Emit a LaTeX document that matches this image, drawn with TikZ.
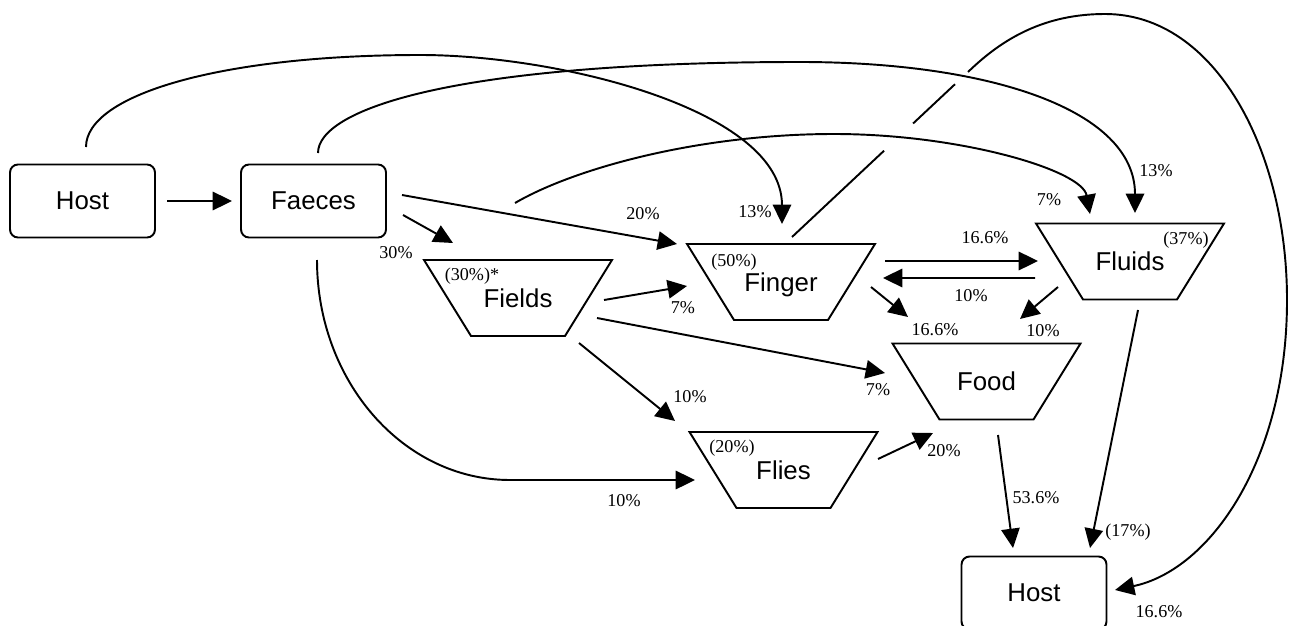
\documentclass[tikz,border=0pt]{standalone}
\usepackage{fontspec}
\setmainfont{Liberation Serif}
\newfontfamily\sansf{Liberation Sans}
\usetikzlibrary{arrows.meta,calc}
\begin{document}
\begin{tikzpicture}[x=0.02cm,y=-0.02cm,
  box/.style={draw, line width=1.1pt, rounded corners=0.16cm, minimum width=2.9cm, minimum height=1.46cm, inner sep=0pt, text depth=0pt, font=\fontsize{14.7}{17}\selectfont\sansf},
  trap/.style={minimum width=3.76cm, minimum height=1.52cm, inner sep=0pt, outer sep=0pt, text depth=0pt, font=\fontsize{14.7}{17}\selectfont\sansf,
    append after command={\pgfextra{\draw[line width=1.1pt, line join=miter]
      (\tikzlastnode.north west) -- (\tikzlastnode.north east)
      -- ([xshift=-0.94cm]\tikzlastnode.south east)
      -- ([xshift=0.94cm]\tikzlastnode.south west) -- cycle;}}},
  conn/.style={line width=1.1pt},
  arr/.style={line width=1.1pt, -{Triangle[length=11pt,width=10.5pt]}},
  lab/.style={inner sep=0pt, font=\fontsize{10.3}{12}\selectfont}]
\useasboundingbox (0,0) rectangle (1290,625);
% nodes
\node[box] (host1) at (82.5,201) {Host};
\node[box] (faeces) at (313.5,201) {Faeces};
\node[box] (host2) at (1034,593) {Host};
\node[trap] (fields) at (518,298) {Fields};
\node[trap] (finger) at (781,282) {Finger};
\node[trap] (fluids) at (1130,261.5) {Fluids};
\node[trap] (food) at (986.5,381.5) {Food};
\node[trap] (flies) at (783.5,470) {Flies};
% share labels
\node[lab] (pfields) at (472,276) {(30\%)*};
\node[lab] (pfinger) at (734,262) {(50\%)};
\node[lab] (pfluids) at (1186,240) {(37\%)};
\node[lab] (pflies) at (732,448) {(20\%)};
% straight connectors
\draw[arr] ($(host1.center)+(84.5,0)$) -- ($(faeces.center)+(-81.5,0)$);
\draw[arr] ($(faeces.center)+(89.5,14)$) -- ($(fields.center)+(-65,-55)$);
\draw[arr] ($(faeces.center)+(88.5,-6)$) -- ($(finger.center)+(-104,-38)$);
\draw[arr] ($(fields.center)+(86,2)$) -- ($(finger.center)+(-94,4)$);
\draw[arr] ($(fields.center)+(79,20)$) -- ($(food.center)+(-101.5,-8.5)$);
\draw[arr] ($(fields.center)+(61,45)$) -- ($(flies.center)+(-108.5,-49)$);
\draw[arr] ($(finger.center)+(104,-21)$) -- ($(fluids.center)+(-92,-0.5)$);
\draw[arr] ($(fluids.center)+(-95,16.5)$) -- ($(finger.center)+(102,-4)$);
\draw[arr] ($(finger.center)+(90,5)$) -- ($(food.center)+(-78.5,-64.5)$);
\draw[arr] ($(fluids.center)+(-72,25.5)$) -- ($(food.center)+(33.5,-62.5)$);
\draw[arr] ($(food.center)+(11.5,53.5)$) -- ($(host2.center)+(-21,-45)$);
\draw[arr] ($(fluids.center)+(8,48.5)$) -- ($(host2.center)+(56,-45)$);
\draw[arr] ($(flies.center)+(94.5,-11)$) -- ($(food.center)+(-53.5,51.5)$);
% curved connectors
\draw[arr] ($(faeces.center)+(3.5,59)$) .. controls +(0,121) and +(-107,0) .. (510,480) -- ($(flies.center)+(-88.5,10)$);
\draw[arr] ($(host1.center)+(3.5,-54)$) .. controls +(0,-52) and +(-200,0) .. (420,55) .. controls +(140,0) and +(0,-114) .. ($(finger.center)+(1,-58)$);
\draw[arr] ($(faeces.center)+(4.5,-48)$) .. controls +(0,-43) and +(-350,0) .. (800,62) .. controls +(190,0) and +(0,-103) .. ($(fluids.center)+(5,-48.5)$);
\draw[arr] ($(fields.center)+(-3,-95)$) .. controls +(60,-35) and +(-134,0) .. (834,134) .. controls +(126,0) and +(-8,-44) .. ($(fluids.center)+(-40,-47.5)$);
% finger -> host (passing under two curves)
\coordinate (k0) at ($(finger.center)+(11,-45)$);
\coordinate (k1) at (968,72);
\draw[conn] (k0) -- ($(k0)!0.523!(k1)$);
\draw[conn] ($(k0)!0.688!(k1)$) -- ($(k0)!0.926!(k1)$);
\draw[arr] (k1) .. controls (1003,38) and (1045,14) .. (1105,14) .. controls (1215,14) and (1287,150) .. (1287,300) .. controls (1287,460) and (1210,570) .. ($(host2.center)+(81,-3)$);
% percentages
\node[lab] at (396,253) {30\%};
\node[lab] at (643,214) {20\%};
\node[lab] at (683,308) {7\%};
\node[lab] at (755,212) {13\%};
\node[lab] at (985,238) {16.6\%};
\node[lab] at (971,296) {10\%};
\node[lab] at (935,330) {16.6\%};
\node[lab] at (1043,331) {10\%};
\node[lab] at (878,390) {7\%};
\node[lab] at (690,397) {10\%};
\node[lab] at (624,501) {10\%};
\node[lab] at (944,451) {20\%};
\node[lab] at (1036,498) {53.6\%};
\node[lab] at (1128,532) {(17\%)};
\node[lab] at (1159,612) {16.6\%};
\node[lab] at (1049,200) {7\%};
\node[lab] at (1156,171) {13\%};
\end{tikzpicture}
\end{document}
